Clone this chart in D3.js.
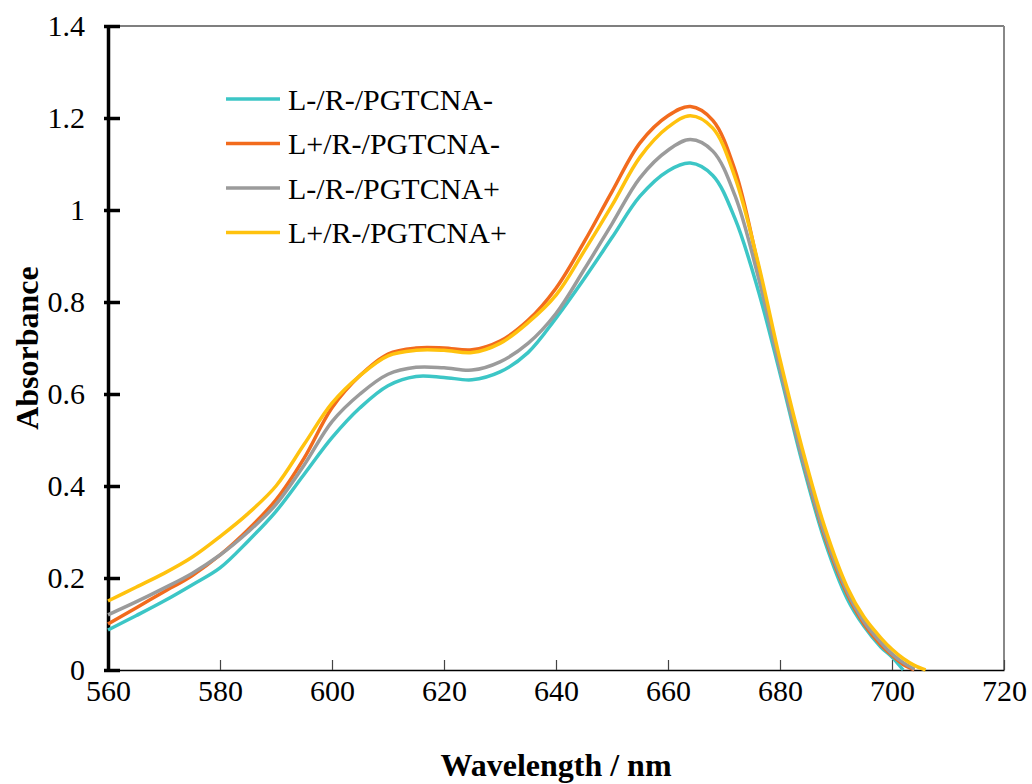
<!DOCTYPE html>
<html>
<head>
<meta charset="utf-8">
<script src="https://cdn.jsdelivr.net/npm/d3@7"></script>
<style>
  body { margin: 0; background: #fff; }
  svg text { font-family: "Liberation Serif", "Times New Roman", serif; fill: #000; }
</style>
</head>
<body>
<div id="chart"></div>
<script>
// wavelengths (nm)
const wavelengths = [560, 565, 570, 575, 580, 585, 590, 595, 600, 605, 610, 615, 620, 625, 630, 635, 640, 645, 650, 655, 660, 664, 668, 672, 676, 680, 684, 688, 692, 695, 698, 700, 702, 704, 706];

// absorbance per sample (null = beyond end of trace)
const cyanVals   = [0.087, 0.118, 0.150, 0.185, 0.222, 0.280, 0.345, 0.425, 0.505, 0.570, 0.618, 0.638, 0.636, 0.631, 0.648, 0.690, 0.765, 0.850, 0.940, 1.030, 1.085, 1.102, 1.075, 0.980, 0.830, 0.645, 0.450, 0.280, 0.155, 0.095, 0.050, 0.028, 0.000, null, null];
const orangeVals = [0.100, 0.135, 0.170, 0.205, 0.250, 0.305, 0.370, 0.460, 0.570, 0.640, 0.687, 0.700, 0.700, 0.696, 0.715, 0.760, 0.830, 0.930, 1.040, 1.146, 1.205, 1.225, 1.195, 1.085, 0.885, 0.660, 0.460, 0.290, 0.165, 0.100, 0.055, 0.032, 0.012, 0.000, null];
const grayVals   = [0.120, 0.148, 0.178, 0.210, 0.250, 0.300, 0.360, 0.445, 0.540, 0.600, 0.643, 0.658, 0.657, 0.652, 0.670, 0.710, 0.775, 0.870, 0.970, 1.070, 1.130, 1.153, 1.128, 1.030, 0.860, 0.655, 0.460, 0.295, 0.170, 0.105, 0.060, 0.035, 0.016, 0.002, null];
const yellowVals = [0.150, 0.180, 0.210, 0.245, 0.290, 0.340, 0.400, 0.490, 0.580, 0.640, 0.683, 0.695, 0.695, 0.690, 0.710, 0.755, 0.815, 0.910, 1.010, 1.115, 1.180, 1.205, 1.178, 1.070, 0.890, 0.675, 0.480, 0.310, 0.180, 0.115, 0.070, 0.045, 0.025, 0.010, 0.000];

const seriesNames  = ["L-/R-/PGTCNA-", "L+/R-/PGTCNA-", "L-/R-/PGTCNA+", "L+/R-/PGTCNA+"];
const seriesColors = ["#3cc6c6", "#f26b1d", "#9b9b9b", "#ffc20e"];
const seriesValues = [cyanVals, orangeVals, grayVals, yellowVals];

const xTicks = [560, 580, 600, 620, 640, 660, 680, 700, 720];
const yTicks = [0, 0.2, 0.4, 0.6, 0.8, 1, 1.2, 1.4];

const FONT = '"Liberation Serif", "Times New Roman", serif';
const width = 1032, height = 784;
const margin = {left: 108, right: 28, top: 26, bottom: 114};

const svg = d3.select('#chart').append('svg')
    .attr('width', width)
    .attr('height', height);

const x = d3.scaleLinear().domain([560, 720]).range([margin.left, width - margin.right]);
const y = d3.scaleLinear().domain([0, 1.4]).range([height - margin.bottom, margin.top]);

// frame: top and right border
svg.append('line')
    .attr('x1', x(560)).attr('x2', x(720))
    .attr('y1', y(1.4)).attr('y2', y(1.4))
    .attr('stroke', '#000').attr('stroke-width', 1.2);
svg.append('line')
    .attr('x1', x(720)).attr('x2', x(720))
    .attr('y1', y(1.4)).attr('y2', y(0))
    .attr('stroke', '#888').attr('stroke-width', 2);

// x axis, ticks pointing inward
const xAxis = svg.append('g')
    .attr('transform', `translate(0,${y(0)})`)
    .call(d3.axisBottom(x).tickValues(xTicks).tickSize(-10).tickSizeOuter(0).tickFormat(d3.format('d')));
xAxis.attr('font-family', FONT);
xAxis.select('.domain').attr('stroke', '#000').attr('stroke-width', 1.6);
xAxis.selectAll('.tick line').attr('stroke', '#444').attr('stroke-width', 1.2);
xAxis.selectAll('.tick text')
    .attr('y', 10).attr('dy', '0.71em')
    .style('font-size', '30px');

// y axis, thick with ticks crossing into the plot
const yAxis = svg.append('g')
    .attr('transform', `translate(${x(560)},0)`)
    .call(d3.axisLeft(y).tickValues(yTicks).tickSize(0).tickFormat(d => d3.format('')(+d.toFixed(1))));
yAxis.attr('font-family', FONT);
yAxis.select('.domain').attr('stroke', '#000').attr('stroke-width', 3.5);
yAxis.selectAll('.tick line')
    .attr('x1', -4).attr('x2', 12)
    .attr('stroke', '#000').attr('stroke-width', 3.5);
yAxis.selectAll('.tick text')
    .attr('x', -23)
    .style('font-size', '30px');

// curves
const line = d3.line()
    .defined(d => d[1] != null)
    .x(d => x(d[0]))
    .y(d => y(d[1]))
    .curve(d3.curveCatmullRom.alpha(0.5));

seriesValues.forEach((vals, i) => {
    svg.append('path')
        .datum(wavelengths.map((w, j) => [w, vals[j]]))
        .attr('fill', 'none')
        .attr('stroke', seriesColors[i])
        .attr('stroke-width', 3.5)
        .attr('stroke-linejoin', 'round')
        .attr('d', line);
});

// legend
const legend = svg.append('g');
seriesNames.forEach((name, i) => {
    const ly = 99 + i * 44.5;
    legend.append('line')
        .attr('x1', 226).attr('x2', 280)
        .attr('y1', ly).attr('y2', ly)
        .attr('stroke', seriesColors[i]).attr('stroke-width', 3.5);
    legend.append('text')
        .attr('x', 288).attr('y', ly)
        .attr('dy', '0.35em')
        .style('font-size', '30px')
        .text(name);
});

// axis titles
svg.append('text')
    .attr('x', (x(560) + x(720)) / 2)
    .attr('y', 776)
    .attr('text-anchor', 'middle')
    .style('font-size', '32px')
    .style('font-weight', 'bold')
    .text('Wavelength / nm');

svg.append('text')
    .attr('transform', `translate(38,${(y(0) + y(1.4)) / 2}) rotate(-90)`)
    .attr('text-anchor', 'middle')
    .style('font-size', '32px')
    .style('font-weight', 'bold')
    .text('Absorbance');
</script>
</body>
</html>
